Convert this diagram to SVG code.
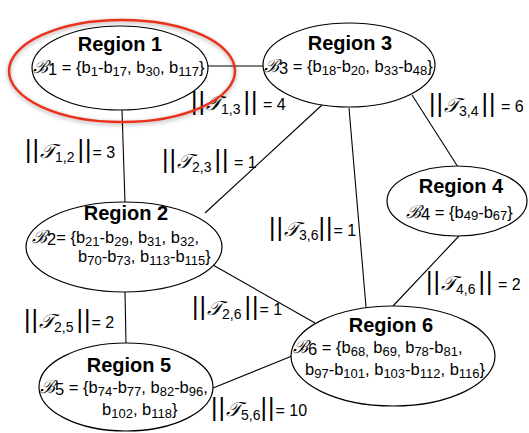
<svg xmlns="http://www.w3.org/2000/svg" width="529" height="433" viewBox="0 0 529 433">
  <style>
    .node { fill: #ffffff; stroke: #000000; stroke-width: 1.2; }
    .edge { stroke: #000000; stroke-width: 1.1; fill: none; }
    .title { font-family: "Liberation Sans", Arial, sans-serif; font-weight: bold; font-size: 20px; text-anchor: middle; fill: #000; }
    .set { font-family: "Liberation Sans", Arial, sans-serif; font-size: 16.5px; fill: #000; }
    .lbl { font-family: "Liberation Sans", Arial, sans-serif; font-size: 16px; fill: #000; }
    .cal { font-family: "DejaVu Serif", "Liberation Serif", serif; font-style: italic; font-size: 18px; }
    .tcal { font-size: 20px; }
    .bar { font-size: 25px; letter-spacing: 1px; }
    .sub { font-size: 13px; }
    .lsub { font-size: 14px; }
  </style>
  <defs>
    <filter id="halo" x="-20%" y="-30%" width="140%" height="160%">
      <feDropShadow dx="0" dy="1.5" stdDeviation="2" flood-color="#000" flood-opacity="0.35"/>
    </filter>
  </defs>

  <!-- connectors -->
  <g id="connectors">
    <line class="edge" x1="122" y1="110" x2="125" y2="203"/>
    <line class="edge" x1="208" y1="66" x2="263" y2="66"/>
    <line class="edge" x1="205" y1="213" x2="322" y2="105"/>
    <line class="edge" x1="349" y1="108" x2="366" y2="307"/>
    <line class="edge" x1="412" y1="95" x2="458" y2="167"/>
    <line class="edge" x1="459" y1="236" x2="393" y2="306"/>
    <line class="edge" x1="213" y1="265" x2="315" y2="323"/>
    <line class="edge" x1="125" y1="292" x2="126" y2="343"/>
    <line class="edge" x1="213" y1="388" x2="292" y2="356"/>
  </g>

  <!-- edge weights -->
  <g id="weights">
    <text class="lbl" x="25" y="158"><tspan class="bar">||</tspan><tspan class="cal tcal">𝒯</tspan><tspan class="lsub" dy="4">1,2</tspan><tspan class="bar" dx="3" dy="-4">||</tspan>= 3</text>
    <text class="lbl" x="191" y="110"><tspan class="bar">||</tspan><tspan class="cal tcal">𝒯</tspan><tspan class="lsub" dy="4">1,3</tspan><tspan class="bar" dx="3" dy="-4">||</tspan> = 4</text>
    <text class="lbl" x="162" y="168"><tspan class="bar">||</tspan><tspan class="cal tcal">𝒯</tspan><tspan class="lsub" dy="4">2,3</tspan><tspan class="bar" dx="3" dy="-4">||</tspan> = 1</text>
    <text class="lbl" x="429" y="112"><tspan class="bar">||</tspan><tspan class="cal tcal">𝒯</tspan><tspan class="lsub" dy="4">3,4</tspan><tspan class="bar" dx="3" dy="-4">||</tspan> = 6</text>
    <text class="lbl" x="269" y="236"><tspan class="bar">||</tspan><tspan class="cal tcal">𝒯</tspan><tspan class="lsub" dy="4">3,6</tspan><tspan class="bar" dy="-4">||</tspan>= 1</text>
    <text class="lbl" x="426" y="290"><tspan class="bar">||</tspan><tspan class="cal tcal">𝒯</tspan><tspan class="lsub" dy="4">4,6</tspan><tspan class="bar" dx="3" dy="-4">||</tspan> = 2</text>
    <text class="lbl" x="24" y="328"><tspan class="bar">||</tspan><tspan class="cal tcal">𝒯</tspan><tspan class="lsub" dy="4">2,5</tspan><tspan class="bar" dx="3" dy="-4">||</tspan>= 2</text>
    <text class="lbl" x="192" y="315"><tspan class="bar">||</tspan><tspan class="cal tcal">𝒯</tspan><tspan class="lsub" dy="4">2,6</tspan><tspan class="bar" dx="3" dy="-4">||</tspan>= 1</text>
    <text class="lbl" x="211" y="416"><tspan class="bar">||</tspan><tspan class="cal tcal">𝒯</tspan><tspan class="lsub" dy="4">5,6</tspan><tspan class="bar" dy="-4">||</tspan>= 10</text>
  </g>

  <!-- Region 1 -->
  <g id="region1">
    <ellipse class="node" cx="120" cy="68" rx="88" ry="42"/>
    <text class="title" x="120" y="51">Region 1</text>
    <text class="set" x="33" y="73"><tspan class="cal">ℬ</tspan><tspan dy="2">1</tspan><tspan dy="-2"> = {b</tspan><tspan class="sub" dy="3">1</tspan><tspan dy="-3">-b</tspan><tspan class="sub" dy="3">17</tspan><tspan dy="-3">, b</tspan><tspan class="sub" dy="3">30</tspan><tspan dy="-3">, b</tspan><tspan class="sub" dy="3">117</tspan><tspan dy="-3">}</tspan></text>
  </g>

  <!-- highlight ring round Region 1 -->
  <ellipse cx="122" cy="71" rx="113" ry="51" fill="none" stroke="#e8321e" stroke-width="2.5" filter="url(#halo)"/>

  <!-- Region 3 -->
  <g id="region3">
    <ellipse class="node" cx="349" cy="65" rx="86" ry="42"/>
    <text class="title" x="350" y="50">Region 3</text>
    <text class="set" x="264" y="72"><tspan class="cal">ℬ</tspan><tspan dy="2">3</tspan><tspan dy="-2"> = {b</tspan><tspan class="sub" dy="3">18</tspan><tspan dy="-3">-b</tspan><tspan class="sub" dy="3">20</tspan><tspan dy="-3">, b</tspan><tspan class="sub" dy="3">33</tspan><tspan dy="-3">-b</tspan><tspan class="sub" dy="3">48</tspan><tspan dy="-3">}</tspan></text>
  </g>

  <!-- Region 2 -->
  <g id="region2">
    <ellipse class="node" cx="124" cy="247" rx="98" ry="45"/>
    <text class="title" x="126" y="220">Region 2</text>
    <text class="set" x="32" y="243"><tspan class="cal">ℬ</tspan><tspan dy="2">2</tspan><tspan dy="-2">= {b</tspan><tspan class="sub" dy="3">21</tspan><tspan dy="-3">-b</tspan><tspan class="sub" dy="3">29</tspan><tspan dy="-3">, b</tspan><tspan class="sub" dy="3">31</tspan><tspan dy="-3">, b</tspan><tspan class="sub" dy="3">32</tspan><tspan dy="-3">,</tspan></text>
    <text class="set" x="78" y="262">b<tspan class="sub" dy="3">70</tspan><tspan dy="-3">-b</tspan><tspan class="sub" dy="3">73</tspan><tspan dy="-3">, b</tspan><tspan class="sub" dy="3">113</tspan><tspan dy="-3">-b</tspan><tspan class="sub" dy="3">115</tspan><tspan dy="-3">}</tspan></text>
  </g>

  <!-- Region 4 -->
  <g id="region4">
    <ellipse class="node" cx="457" cy="201" rx="70" ry="35"/>
    <text class="title" x="461" y="193">Region 4</text>
    <text class="set" x="406" y="218"><tspan class="cal">ℬ</tspan><tspan dy="2">4</tspan><tspan dy="-2">  = {b</tspan><tspan class="sub" dy="2">49</tspan><tspan dy="-2">-b</tspan><tspan class="sub" dy="2">67</tspan><tspan dy="-2">}</tspan></text>
  </g>

  <!-- Region 5 -->
  <g id="region5">
    <ellipse class="node" cx="126" cy="387" rx="87" ry="44"/>
    <text class="title" x="129" y="372">Region 5</text>
    <text class="set" x="40" y="393"><tspan class="cal">ℬ</tspan><tspan dy="2">5</tspan><tspan dy="-2"> = {b</tspan><tspan class="sub" dy="3">74</tspan><tspan dy="-3">-b</tspan><tspan class="sub" dy="3">77</tspan><tspan dy="-3">, b</tspan><tspan class="sub" dy="3">82</tspan><tspan dy="-3">-b</tspan><tspan class="sub" dy="3">96</tspan><tspan dy="-3">,</tspan></text>
    <text class="set" x="102" y="415">b<tspan class="sub" dy="3">102</tspan><tspan dy="-3">, b</tspan><tspan class="sub" dy="3">118</tspan><tspan dy="-3">}</tspan></text>
  </g>

  <!-- Region 6 -->
  <g id="region6">
    <ellipse class="node" cx="393" cy="356" rx="102" ry="50"/>
    <text class="title" x="391" y="332">Region 6</text>
    <text class="set" x="293" y="353"><tspan class="cal">ℬ</tspan><tspan dy="2">6</tspan><tspan dy="-2"> = {b</tspan><tspan class="sub" dy="3">68,</tspan><tspan dy="-3"> b</tspan><tspan class="sub" dy="3">69,</tspan><tspan dy="-3"> b</tspan><tspan class="sub" dy="3">78</tspan><tspan dy="-3">-b</tspan><tspan class="sub" dy="3">81</tspan><tspan dy="-3">,</tspan></text>
    <text class="set" x="305" y="375">b<tspan class="sub" dy="3">97</tspan><tspan dy="-3">-b</tspan><tspan class="sub" dy="3">101</tspan><tspan dy="-3">, b</tspan><tspan class="sub" dy="3">103</tspan><tspan dy="-3">-b</tspan><tspan class="sub" dy="3">112</tspan><tspan dy="-3">, b</tspan><tspan class="sub" dy="3">116</tspan><tspan dy="-3">}</tspan></text>
  </g>
</svg>
